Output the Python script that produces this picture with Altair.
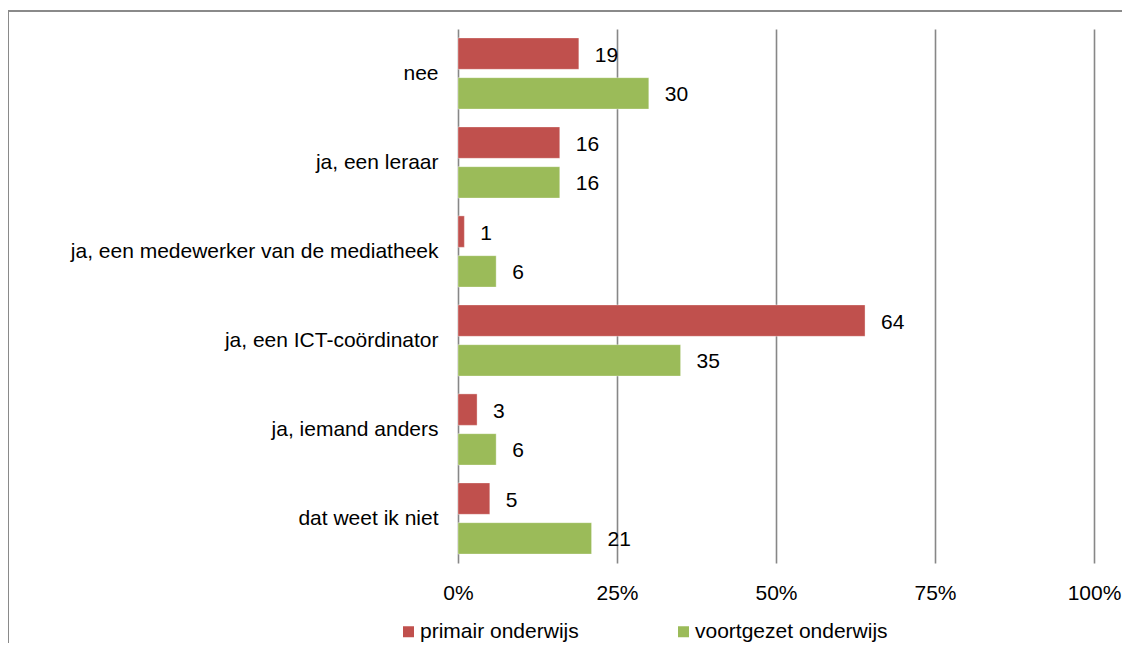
import altair as alt
import pandas as pd

categories = [
    "nee",
    "ja, een leraar",
    "ja, een medewerker van de mediatheek",
    "ja, een ICT-coördinator",
    "ja, iemand anders",
    "dat weet ik niet",
]
series_names = ["primair onderwijs", "voortgezet onderwijs"]
primair = [19, 16, 1, 64, 3, 5]
voortgezet = [30, 16, 6, 35, 6, 21]
x_ticks = [0, 25, 50, 75, 100]
colors = ["#C0504D", "#9BBB59"]

rows = []
for c, p, v in zip(categories, primair, voortgezet):
    rows.append({"cat": c, "series": series_names[0], "value": p})
    rows.append({"cat": c, "series": series_names[1], "value": v})
df = pd.DataFrame(rows)

FONT = "Liberation Sans"

y_enc = alt.Y(
    "cat:N",
    sort=categories,
    scale=alt.Scale(paddingInner=0.2, paddingOuter=0.1),
    axis=alt.Axis(
        title=None, domain=False, ticks=False, grid=False,
        labelPadding=20, labelLimit=600, labelFontSize=21,
        labelFont=FONT, labelColor="#000000",
    ),
)
yoff_enc = alt.YOffset(
    "series:N", sort=series_names, scale=alt.Scale(paddingInner=0.21)
)
x_enc = alt.X(
    "value:Q",
    scale=alt.Scale(domain=[0, 100], nice=False),
    axis=alt.Axis(
        title=None, values=x_ticks, domain=False, ticks=False, grid=True,
        gridColor="#878787", gridWidth=1.6, labelExpr="datum.value + '%'",
        labelFlush=False, labelOverlap=False,
        labelPadding=19, labelFontSize=21, labelFont=FONT,
        labelColor="#000000",
    ),
)

base = alt.Chart(df)

bars = base.mark_bar(stroke="#ffffff", strokeOpacity=0.35, strokeWidth=1).encode(
    x=x_enc,
    y=y_enc,
    yOffset=yoff_enc,
    color=alt.Color(
        "series:N",
        scale=alt.Scale(domain=series_names, range=colors),
        legend=alt.Legend(
            title=None, orient="none", legendX=-60, legendY=592,
            direction="horizontal", symbolType="square", symbolSize=121,
            symbolStrokeWidth=0, labelFontSize=21, labelFont=FONT,
            labelColor="#000000", labelOffset=1, columnPadding=94,
            labelLimit=400, padding=0,
        ),
    ),
)

labels = base.mark_text(
    align="left", baseline="middle", dx=16, dy=2, fontSize=21, font=FONT,
    color="#000000",
).encode(
    x="value:Q",
    y=alt.Y("cat:N", sort=categories),
    yOffset=alt.YOffset("series:N", sort=series_names),
    text=alt.Text("value:Q"),
)

border_df = pd.DataFrame({"k": [0]})
border_top = alt.Chart(border_df).mark_rule(color="#8a8a8a", strokeWidth=2).encode(
    x=alt.value(-450), x2=alt.value(700), y=alt.value(-18)
)
border_left = alt.Chart(border_df).mark_rule(color="#8a8a8a", strokeWidth=2).encode(
    x=alt.value(-450), y=alt.value(-19), y2=alt.value(700)
)

chart = alt.layer(bars, labels, border_top, border_left).properties(
    width=636,
    height=534,
    autosize=alt.AutoSizeParams(type="none"),
    padding={"left": 450, "top": 21, "right": 28, "bottom": 80},
).configure_view(stroke=None)

chart.save("out.html", embed_options={"renderer": "svg", "actions": False})
